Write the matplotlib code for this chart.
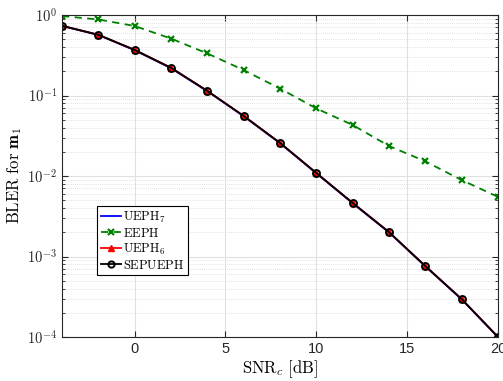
import matplotlib
matplotlib.use("Agg")
import matplotlib.pyplot as plt
from matplotlib.ticker import FixedLocator, FuncFormatter, LogLocator, NullFormatter
import math

plt.rcParams['font.family'] = ['Liberation Sans', 'DejaVu Sans']
plt.rcParams['mathtext.fontset'] = 'cm'

snr = [-4, -2, 0, 2, 4, 6, 8, 10, 12, 14, 16, 18, 20]
ueph7 = [0.73, 0.565, 0.365, 0.218, 0.113, 0.0553, 0.0255, 0.0108, 0.00458, 0.00199, 0.000755, 0.000293, 0.0000995]
eeph = [0.97, 0.88, 0.73, 0.51, 0.333, 0.207, 0.122, 0.069, 0.043, 0.0236, 0.0152, 0.0089, 0.0055]
ueph6 = [0.735, 0.568, 0.368, 0.221, 0.114, 0.0557, 0.0258, 0.0109, 0.00463, 0.00201, 0.00076, 0.000296, 0.0001]
sepueph = [0.735, 0.568, 0.368, 0.221, 0.114, 0.0557, 0.0258, 0.0109, 0.00463, 0.00201, 0.00076, 0.000296, 0.0001]
xticks = [0, 5, 10, 15, 20]
yticks = [1e-4, 1e-3, 1e-2, 1e-1, 1e0]

fig = plt.figure(figsize=(5.03, 3.81), dpi=100)
ax = fig.add_axes([62/503, 1-337/381, 436/503, 322/381])

ax.semilogy(snr, ueph7, color='#0000ff', lw=1.3, label=r'$\mathrm{UEPH}_7$')
ax.semilogy(snr, eeph, color='#008000', lw=1.3, ls=(0, (4, 3)), marker='x', ms=5, mew=1.6, label=r'$\mathrm{EEPH}$')
ax.semilogy(snr, ueph6, color='#ff0000', lw=1.3, marker='^', ms=5, mfc='#ff0000', label=r'$\mathrm{UEPH}_6$')
ax.semilogy(snr, sepueph, color='black', lw=1.3, marker='o', ms=5, mfc='none', mew=1.4, label=r'$\mathrm{SEPUEPH}$')

ax.set_xlim(-4, 20)
ax.set_ylim(1e-4, 1)
ax.xaxis.set_major_locator(FixedLocator(xticks))
ax.yaxis.set_major_locator(FixedLocator(yticks))
ax.yaxis.set_minor_locator(LogLocator(base=10, subs=range(2, 10)))
ax.yaxis.set_minor_formatter(NullFormatter())
ax.yaxis.set_major_formatter(FuncFormatter(lambda v, p: r'$\mathsf{10^{%d}}$' % round(math.log10(v))))

ax.grid(True, which='major', color='#e0e0e0', lw=0.8)
ax.grid(True, which='minor', axis='y', color='#d8d8d8', lw=0.6, ls=(0, (1, 1.5)))
ax.set_axisbelow(True)
ax.tick_params(which='both', direction='in', top=True, right=True, labelsize=10.5, colors='#262626')
ax.tick_params(which='minor', length=2.5)
ax.tick_params(which='major', length=4)
for s in ax.spines.values():
    s.set_color('#262626')
    s.set_linewidth(0.8)

ax.set_xlabel(r'$\mathrm{SNR}_c\ \mathrm{[dB]}$', fontsize=12, labelpad=2)
ax.set_ylabel(r'$\mathrm{BLER\ for\ }\mathbf{m}_1$', fontsize=12, labelpad=2)

leg = ax.legend(loc='upper left', bbox_to_anchor=((97-62)/436, (337-206)/322), fontsize=9,
                frameon=True, fancybox=False, edgecolor='black', framealpha=1,
                handlelength=1.6, handletextpad=0.15, borderpad=0.3, labelspacing=0.15, borderaxespad=0,
                markerscale=0.9)
leg.get_frame().set_linewidth(0.8)

fig.savefig('out.png', dpi=100)
